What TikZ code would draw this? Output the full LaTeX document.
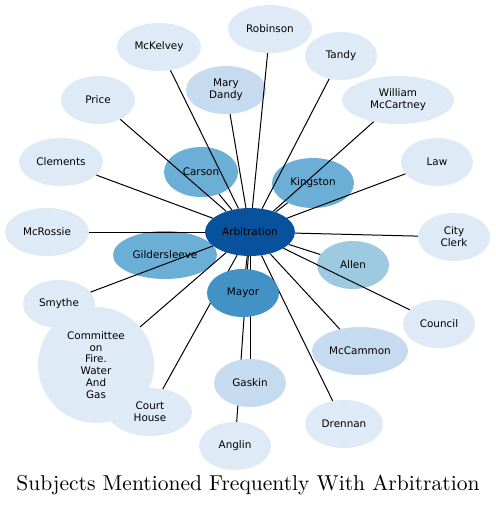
\documentclass[tikz,border=0pt]{standalone}
\usepackage{fontspec}
\setsansfont{DejaVu Sans}
\usetikzlibrary{shapes.geometric}
\definecolor{cA}{HTML}{DEEBF7}
\definecolor{cB}{HTML}{C6DBEF}
\definecolor{cC}{HTML}{9ECAE1}
\definecolor{cD}{HTML}{6BAED6}
\definecolor{cE}{HTML}{4292C6}
\definecolor{cF}{HTML}{08519C}
\pgfdeclarelayer{front}
\pgfsetlayers{main,front}
\begin{document}
\begin{tikzpicture}[x=1pt,y=-1pt,
  nd/.style={ellipse,draw=none,fill=cA,inner sep=0pt,minimum width=#1,minimum height=48pt,
    align=center,font=\sffamily\fontsize{10.4}{12}\selectfont},
  nd/.default=72pt,
  edge/.style={draw=black,line width=1pt}]
\useasboundingbox (0,0) rectangle (496,507);
\node[nd=84pt] (robinson) at (270,29) {Robinson};
\node[nd=84pt] (mckelvey) at (159,47) {McKelvey};
\node[nd=72pt] (tandy) at (341,56) {Tandy};
\node[nd=80pt,fill=cB] (dandy) at (226,90) {Mary\\Dandy};
\node[nd=74pt] (price) at (98,100) {Price};
\node[nd=112pt] (mccartney) at (398,100) {William\\McCartney};
\node[nd=74pt,minimum height=50pt,fill=cD] (carson) at (201,172) {Carson};
\node[nd=82pt,minimum height=50pt,fill=cD] (kingston) at (313,183) {Kingston};
\node[nd=84pt] (clements) at (61,162) {Clements};
\node[nd=72pt] (law) at (437,162) {Law};
\node[nd=84pt] (mcrossie) at (47,232) {McRossie};
\node[nd=72pt] (clerk) at (454,237) {City\\Clerk};
\node[nd=104pt,fill=cD] (gilder) at (165,255) {Gildersleeve};
\node[nd=72pt,fill=cC] (allen) at (353,265) {Allen};
\node[nd=72pt] (smythe) at (59,304) {Smythe};
\node[nd=72pt] (council) at (439,324) {Council};
\node[circle,fill=cA,inner sep=0pt,minimum size=116pt,align=center,
  font=\sffamily\fontsize{10.4}{11.8}\selectfont] (committee) at (96,365) {Committee\\on\\Fire.\\Water\\And\\Gas};
\node[nd=96pt,fill=cB] (mccammon) at (360,351) {McCammon};
\node[nd=84pt] (court) at (150,412) {Court\\House};
\node[nd=78pt] (drennan) at (344,424) {Drennan};
\node[nd=72pt] (anglin) at (235,446) {Anglin};
\node[nd=90pt,fill=cF] (arb) at (250,232) {Arbitration};
\begin{pgfonlayer}{front}
\node[nd=72pt,fill=cE] (mayor) at (243,293) {Mayor};
\node[nd=72pt,fill=cB] (gaskin) at (250,383) {Gaskin};
\end{pgfonlayer}
\foreach \t in {robinson,mckelvey,tandy,dandy,price,mccartney,carson,kingston,clements,law,mcrossie,clerk,gilder,allen,smythe,council,committee,mccammon,court,drennan,anglin,mayor,gaskin}
  \draw[edge] (arb) -- (\t);
\node[inner sep=0pt] (title) at (248,485) {\resizebox{463pt}{!}{\fontsize{10}{12}\selectfont Subjects Mentioned Frequently With Arbitration}};
\end{tikzpicture}
\end{document}
